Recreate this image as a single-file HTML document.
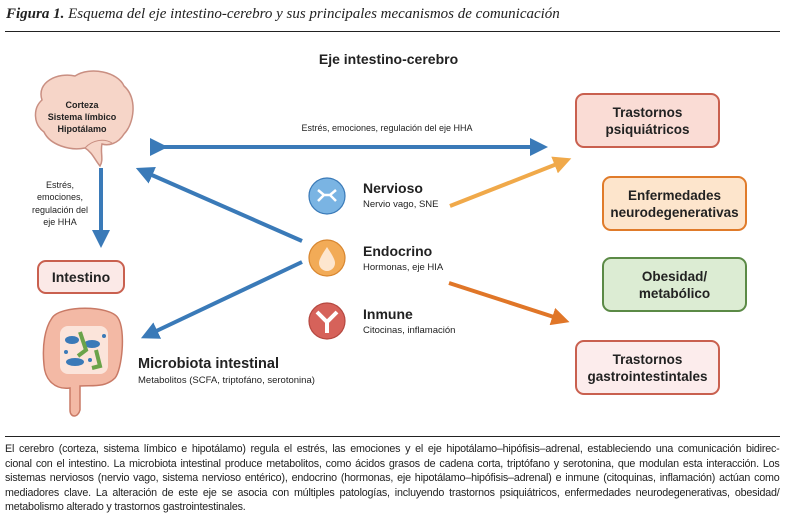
<!DOCTYPE html>
<html><head><meta charset="utf-8"><style>
body{margin:0;width:789px;height:517px;background:#fff;overflow:hidden;position:relative;font-family:"Liberation Sans",sans-serif;color:#222}
.a{position:absolute}
.box{position:absolute;border:2px solid;border-radius:9px;box-sizing:border-box;display:flex;align-items:center;justify-content:center;text-align:center;font-weight:bold;font-size:13.5px;line-height:17px;color:#222}
.cap{position:absolute;left:5px;top:442px;font-size:11.4px;line-height:14.5px;letter-spacing:-0.2px;transform:scaleX(0.94);transform-origin:left top;width:824px;color:#222}
.cap div{text-align:justify;text-align-last:justify;white-space:nowrap}
.cap div.l{text-align-last:left}
</style></head><body>
<div class="a" style="left:6px;top:6px;font-family:'Liberation Serif',serif;font-style:italic;font-size:15px;color:#222"><b>Figura 1.</b> Esquema del eje intestino-cerebro y sus principales mecanismos de comunicación</div>
<div class="a" style="left:5px;top:31px;width:775px;height:1px;background:#222"></div>
<div class="a" style="left:0;width:789px;top:51px;text-align:center;font-weight:bold;font-size:14px"><span style="position:relative;left:-6px">Eje intestino-cerebro</span></div>

<svg class="a" style="left:0;top:0" width="789" height="437">
<defs>
<marker id="b" markerWidth="4.5" markerHeight="4.5" refX="2" refY="2.25" orient="auto" markerUnits="strokeWidth"><path d="M0,0L4.5,2.25L0,4.5z" fill="#3a7ab8"/></marker>
<marker id="o" markerWidth="4.5" markerHeight="4.5" refX="2" refY="2.25" orient="auto" markerUnits="strokeWidth"><path d="M0,0L4.5,2.25L0,4.5z" fill="#f0a94a"/></marker>
<marker id="d" markerWidth="4.5" markerHeight="4.5" refX="2" refY="2.25" orient="auto" markerUnits="strokeWidth"><path d="M0,0L4.5,2.25L0,4.5z" fill="#e07628"/></marker>
</defs>
<path d="M42,100 C36,82 58,72 75,76 C90,66 118,72 124,86 C138,98 134,124 124,134 C118,144 108,146 102,144 C100,152 104,160 100,166 C95,160 92,152 85,148 C70,151 50,145 44,132 C33,124 33,108 42,100Z" fill="#f6d5c8" stroke="#c98f82" stroke-width="1.5"/>
<path d="M85,148 C92,140 104,138 112,143" fill="none" stroke="#c98f82"/>
<text font-size="9" font-weight="bold" text-anchor="middle" fill="#222"><tspan x="82" y="108">Corteza</tspan><tspan x="82" y="120">Sistema límbico</tspan><tspan x="82" y="132">Hipotálamo</tspan></text>
<line x1="158" y1="147" x2="538" y2="147" stroke="#3a7ab8" stroke-width="4" marker-start="url(#b)" marker-end="url(#b)"/>
<text x="387" y="131" font-size="9" text-anchor="middle" fill="#222">Estrés, emociones, regulación del eje HHA</text>
<line x1="101" y1="168" x2="101" y2="238" stroke="#3a7ab8" stroke-width="4" marker-end="url(#b)"/>
<text font-size="9" text-anchor="middle" fill="#222"><tspan x="60" y="188">Estrés,</tspan><tspan x="60" y="200">emociones,</tspan><tspan x="60" y="213">regulación del</tspan><tspan x="60" y="225">eje HHA</tspan></text>
<line x1="302" y1="241" x2="145" y2="172" stroke="#3a7ab8" stroke-width="4" marker-end="url(#b)"/>
<line x1="302" y1="262" x2="150" y2="334" stroke="#3a7ab8" stroke-width="4" marker-end="url(#b)"/>
<line x1="450" y1="206" x2="562" y2="162" stroke="#f0a94a" stroke-width="4" marker-end="url(#o)"/>
<line x1="449" y1="283" x2="560" y2="319" stroke="#e07628" stroke-width="4" marker-end="url(#d)"/>
<path d="M52,318 C60,305 110,305 118,318 C126,330 122,370 115,378 C105,388 92,385 80,386 L80,410 C78,418 70,418 70,410 L70,388 C55,390 45,380 44,365 C42,345 45,328 52,318Z" fill="#f3b9a5" stroke="#c97a66" stroke-width="1.5"/>
<rect x="60" y="326" width="48" height="48" rx="8" fill="#fbe4da"/>
<ellipse cx="72" cy="340" rx="7" ry="4" fill="#3a7ab8"/><ellipse cx="92" cy="344" rx="8" ry="4" fill="#3a7ab8"/><ellipse cx="75" cy="362" rx="9" ry="4" fill="#3a7ab8"/>
<path d="M80,332 L86,350 L78,356" stroke="#6aa34a" stroke-width="4" fill="none"/><path d="M96,350 L100,366 L92,368" stroke="#6aa34a" stroke-width="4" fill="none"/>
<circle cx="66" cy="352" r="2" fill="#3a7ab8"/><circle cx="104" cy="336" r="2" fill="#3a7ab8"/><circle cx="90" cy="360" r="2" fill="#3a7ab8"/>
<circle cx="327" cy="196" r="18" fill="#7ab4e3" stroke="#3a7ab8" stroke-width="1.2"/>
<path d="M318,190 L324,195 L318,201 M336,190 L330,195 L336,201 M324,195 L330,195" stroke="#fff" stroke-width="2.5" fill="none"/>
<circle cx="327" cy="258" r="18" fill="#f2ab57" stroke="#d8862f" stroke-width="1.2"/>
<path d="M327,247 C321,256 319,260 319,263 A8,8 0 0 0 335,263 C335,260 333,256 327,247Z" fill="#fde6cf"/>
<circle cx="327" cy="321" r="18" fill="#d6625a" stroke="#b54840" stroke-width="1.2"/>
<path d="M317,312 L327,322 L337,312 M327,322 L327,333" stroke="#fff" stroke-width="4" fill="none"/>
</svg>
<div class="a" style="left:363px;top:180px;font-weight:bold;font-size:14px">Nervioso</div>
<div class="a" style="left:363px;top:199px;font-size:9.5px">Nervio vago, SNE</div>
<div class="a" style="left:363px;top:243px;font-weight:bold;font-size:14px">Endocrino</div>
<div class="a" style="left:363px;top:262px;font-size:9.5px">Hormonas, eje HIA</div>
<div class="a" style="left:363px;top:306px;font-weight:bold;font-size:14px">Inmune</div>
<div class="a" style="left:363px;top:325px;font-size:9.5px">Citocinas, inflamación</div>
<div class="a" style="left:138px;top:356px;font-weight:bold;font-size:14.5px">Microbiota intestinal</div>
<div class="a" style="left:138px;top:375px;font-size:9.5px">Metabolitos (SCFA, triptofáno, serotonina)</div>

<div class="box" style="left:37px;top:260px;width:88px;height:34px;background:#fbe9e7;border-color:#c9604f;font-size:14px">Intestino</div>
<div class="box" style="left:575px;top:93px;width:145px;height:55px;background:#fadcd5;border-color:#c9604f">Trastornos<br>psiquiátricos</div>
<div class="box" style="left:602px;top:176px;width:145px;height:55px;background:#fde5cc;border-color:#e07b2a">Enfermedades<br>neurodegenerativas</div>
<div class="box" style="left:602px;top:257px;width:145px;height:55px;background:#dcecd3;border-color:#5b8a46">Obesidad/<br>metabólico</div>
<div class="box" style="left:575px;top:340px;width:145px;height:55px;background:#fcecec;border-color:#c9604f">Trastornos<br>gastrointestintales</div>

<div class="a" style="left:5px;top:436px;width:775px;height:1px;background:#222"></div>
<div class="cap">
<div>El cerebro (corteza, sistema límbico e hipotálamo) regula el estrés, las emociones y el eje hipotálamo–hipófisis–adrenal, estableciendo una comunicación bidirec-</div>
<div>cional con el intestino. La microbiota intestinal produce metabolitos, como ácidos grasos de cadena corta, triptófano y serotonina, que modulan esta interacción. Los</div>
<div>sistemas nerviosos (nervio vago, sistema nervioso entérico), endocrino (hormonas, eje hipotálamo–hipófisis–adrenal) e inmune (citoquinas, inflamación) actúan como</div>
<div>mediadores clave. La alteración de este eje se asocia con múltiples patologías, incluyendo trastornos psiquiátricos, enfermedades neurodegenerativas, obesidad/</div>
<div class="l">metabolismo alterado y trastornos gastrointestinales.</div>
</div>
</body></html>
